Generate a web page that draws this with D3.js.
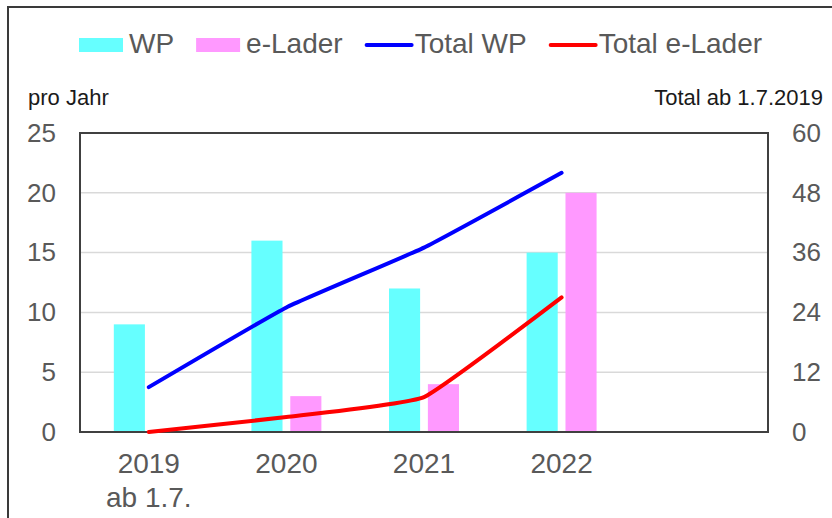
<!DOCTYPE html>
<html>
<head>
<meta charset="utf-8">
<script src="https://cdn.jsdelivr.net/npm/d3@7"></script>
<style>
  body { margin: 0; background: #fff; }
  svg { display: block; font-family: "Liberation Sans", Arial, sans-serif; }
</style>
</head>
<body>
<svg id="chart"></svg>
<script>
// data
var categories = ["2019", "2020", "2021", "2022", ""]; // 5th slot is empty
var subLabels = ["ab 1.7.", "", "", "", ""];
var wpPerYear = [9, 16, 12, 15];
var eLaderPerYear = [0, 3, 4, 20];
var totalWP = [9, 25, 37, 52];
var totalELader = [0, 3, 7, 27];
var leftTicks = [0, 5, 10, 15, 20, 25];
var rightTicks = [0, 12, 24, 36, 48, 60];

var width = 832, height = 518;
var plot = { left: 80, right: 768, top: 133, bottom: 432 };

var svg = d3.select("#chart").attr("width", width).attr("height", height);

// outer frame (runs off the bottom/right of the picture)
svg.append("rect")
    .attr("x", 8).attr("y", 7)
    .attr("width", 840).attr("height", 540)
    .attr("fill", "none").attr("stroke", "#3a3a3a").attr("stroke-width", 2);

// scales
var x0 = d3.scaleBand().domain(categories).range([plot.left, plot.right]);
var x1 = d3.scaleBand().domain(["WP", "e-Lader"]).range([0, x0.bandwidth()])
    .paddingInner(0.2).paddingOuter(0.87);
var yLeft = d3.scaleLinear().domain([0, 25]).range([plot.bottom, plot.top]);
var yRight = d3.scaleLinear().domain([0, 60]).range([plot.bottom, plot.top]);

// gridlines
svg.append("g").selectAll("line")
    .data(leftTicks.filter(function (d) { return d > 0 && d < 25; }))
    .enter().append("line")
    .attr("x1", plot.left).attr("x2", plot.right)
    .attr("y1", function (d) { return yLeft(d); })
    .attr("y2", function (d) { return yLeft(d); })
    .attr("stroke", "#d9d9d9").attr("stroke-width", 1.5);

// bars
var rows = wpPerYear.map(function (v, i) {
    return { cat: categories[i], values: [{ key: "WP", v: v }, { key: "e-Lader", v: eLaderPerYear[i] }] };
});
var color = { "WP": "#66ffff", "e-Lader": "#ff99ff" };
svg.append("g").selectAll("g")
    .data(rows)
    .enter().append("g")
    .attr("transform", function (d) { return "translate(" + x0(d.cat) + ",0)"; })
    .selectAll("rect")
    .data(function (d) { return d.values; })
    .enter().append("rect")
    .attr("x", function (d) { return x1(d.key); })
    .attr("width", x1.bandwidth())
    .attr("y", function (d) { return yLeft(d.v); })
    .attr("height", function (d) { return yLeft(0) - yLeft(d.v); })
    .attr("fill", function (d) { return color[d.key]; });

// plot border
svg.append("rect")
    .attr("x", plot.left).attr("y", plot.top)
    .attr("width", plot.right - plot.left).attr("height", plot.bottom - plot.top)
    .attr("fill", "none").attr("stroke", "#404040").attr("stroke-width", 2);

// cumulative lines on the right axis (slight smoothing like the original)
var line = d3.line()
    .x(function (d, i) { return x0(categories[i]) + x0.bandwidth() / 2; })
    .y(function (d) { return yRight(d); })
    .curve(d3.curveCardinal.tension(0.65));

svg.append("path").datum(totalELader)
    .attr("d", line).attr("fill", "none")
    .attr("stroke", "#ff0000").attr("stroke-width", 4).attr("stroke-linecap", "round");
svg.append("path").datum(totalWP)
    .attr("d", line).attr("fill", "none")
    .attr("stroke", "#0000ff").attr("stroke-width", 4).attr("stroke-linecap", "round");

// axes (drawn as plain text, like the original)
var tickColor = "#595959";
var leftAxis = d3.axisLeft(yLeft).tickValues(leftTicks).tickSize(0).tickPadding(0);
var gl = svg.append("g").attr("transform", "translate(56,0)").call(leftAxis);
gl.select(".domain").remove();
gl.selectAll("text").attr("fill", tickColor).style("font-size", "26px")
    .style("font-family", "Liberation Sans, Arial, sans-serif");

var rightAxis = d3.axisRight(yRight).tickValues(rightTicks).tickSize(0).tickPadding(0);
var gr = svg.append("g").attr("transform", "translate(792,0)").call(rightAxis);
gr.select(".domain").remove();
gr.selectAll("text").attr("fill", tickColor).style("font-size", "26px")
    .style("font-family", "Liberation Sans, Arial, sans-serif");

// category labels
var xl = svg.append("g");
xl.selectAll("text.cat")
    .data(categories.filter(function (c) { return c !== ""; }))
    .enter().append("text")
    .attr("class", "cat")
    .attr("x", function (d) { return x0(d) + x0.bandwidth() / 2; })
    .attr("y", 473)
    .attr("text-anchor", "middle")
    .attr("fill", tickColor).style("font-size", "28px")
    .text(function (d) { return d; });
xl.selectAll("text.sub")
    .data(subLabels.map(function (s, i) { return { s: s, c: categories[i] }; })
        .filter(function (d) { return d.s !== ""; }))
    .enter().append("text")
    .attr("class", "sub")
    .attr("x", function (d) { return x0(d.c) + x0.bandwidth() / 2; })
    .attr("y", 507)
    .attr("text-anchor", "middle")
    .attr("fill", tickColor).style("font-size", "28px")
    .text(function (d) { return d.s; });

// axis titles
svg.append("text").attr("x", 28).attr("y", 105)
    .attr("fill", "#1a1a1a").style("font-size", "22px").text("pro Jahr");
svg.append("text").attr("x", 823).attr("y", 105).attr("text-anchor", "end")
    .attr("fill", "#1a1a1a").style("font-size", "22px").text("Total ab 1.7.2019");

// legend
var legendItems = [
    { label: "WP", type: "rect", color: "#66ffff" },
    { label: "e-Lader", type: "rect", color: "#ff99ff" },
    { label: "Total WP", type: "line", color: "#0000ff" },
    { label: "Total e-Lader", type: "line", color: "#ff0000" }
];
var lx = 79;
legendItems.forEach(function (item) {
    var g = svg.append("g");
    if (item.type === "rect") {
        g.append("rect").attr("x", lx).attr("y", 38).attr("width", 44).attr("height", 14)
            .attr("fill", item.color);
    } else {
        g.append("line").attr("x1", lx + 2).attr("x2", lx + 47).attr("y1", 45).attr("y2", 45)
            .attr("stroke", item.color).attr("stroke-width", 4).attr("stroke-linecap", "round");
    }
    var t = g.append("text").attr("x", lx + 50).attr("y", 53)
        .attr("fill", tickColor).style("font-size", "28px").text(item.label);
    lx = lx + 50 + t.node().getComputedTextLength() + 22;
});
</script>
</body>
</html>
